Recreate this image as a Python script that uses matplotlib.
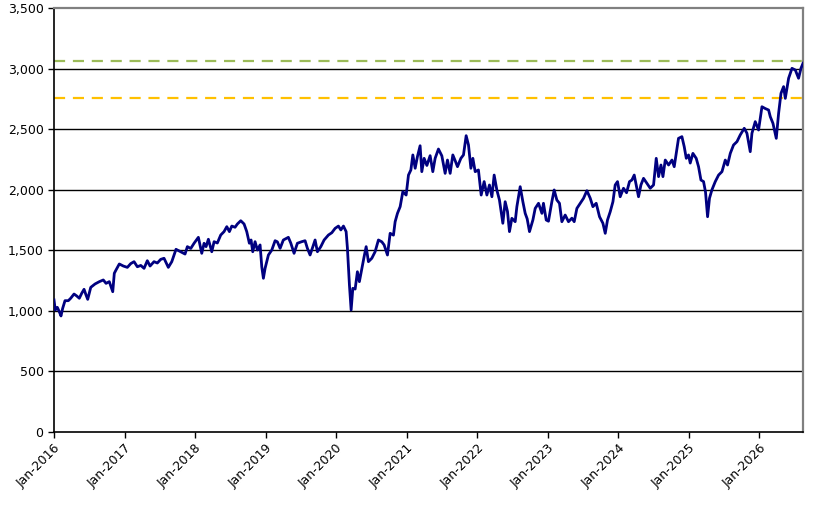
import matplotlib
matplotlib.use("Agg")
import matplotlib.pyplot as plt
from matplotlib.ticker import FuncFormatter

# ---- data (decimal year, index value) ----
dec_year = [
    2016.000, 2016.018, 2016.047, 2016.075, 2016.099, 2016.123, 2016.156, 2016.203, 2016.237, 2016.284,
    2016.322, 2016.359, 2016.393, 2016.426, 2016.454, 2016.478, 2016.521, 2016.582, 2016.643, 2016.699,
    2016.738, 2016.784, 2016.833, 2016.855, 2016.879, 2016.926, 2016.983, 2017.040, 2017.088, 2017.135,
    2017.182, 2017.230, 2017.277, 2017.323, 2017.362, 2017.418, 2017.465, 2017.513, 2017.560, 2017.621,
    2017.670, 2017.730, 2017.797, 2017.858, 2017.891, 2017.939, 2017.986, 2018.047, 2018.095, 2018.128,
    2018.156,
    2018.189, 2018.237, 2018.270, 2018.316, 2018.364, 2018.411, 2018.450, 2018.487, 2018.521, 2018.567,
    2018.600, 2018.648, 2018.695, 2018.733, 2018.770, 2018.794, 2018.818, 2018.851, 2018.884, 2018.922,
    2018.946, 2018.969, 2018.993, 2019.040, 2019.088, 2019.135, 2019.167, 2019.206, 2019.252, 2019.323,
    2019.357, 2019.404, 2019.451, 2019.513, 2019.560, 2019.593, 2019.631, 2019.678, 2019.702, 2019.735,
    2019.783, 2019.830, 2019.891, 2019.939, 2019.986, 2020.033, 2020.067, 2020.104, 2020.142, 2020.160,
    2020.189, 2020.213, 2020.237, 2020.270, 2020.302, 2020.330, 2020.365, 2020.397, 2020.426, 2020.458,
    2020.506, 2020.553, 2020.600, 2020.648, 2020.681, 2020.728, 2020.766, 2020.813, 2020.837, 2020.870,
    2020.908, 2020.946, 2020.993, 2021.026, 2021.060, 2021.088, 2021.121, 2021.153, 2021.191, 2021.215,
    2021.248, 2021.287, 2021.333, 2021.371, 2021.404, 2021.451, 2021.499, 2021.546, 2021.579, 2021.617,
    2021.655, 2021.688, 2021.721, 2021.769, 2021.806, 2021.844, 2021.877, 2021.911, 2021.939, 2021.972,
    2022.018, 2022.057, 2022.099, 2022.138, 2022.174, 2022.209, 2022.241, 2022.279, 2022.316, 2022.364,
    2022.397, 2022.430, 2022.458, 2022.492, 2022.539, 2022.563, 2022.610, 2022.648, 2022.681, 2022.709,
    2022.742, 2022.790, 2022.823, 2022.870, 2022.918, 2022.940, 2022.979, 2023.011, 2023.059, 2023.092,
    2023.130, 2023.167, 2023.201, 2023.248, 2023.295, 2023.343, 2023.376, 2023.414, 2023.461, 2023.508,
    2023.556, 2023.603, 2023.641, 2023.688, 2023.735, 2023.783, 2023.816, 2023.848, 2023.887, 2023.925,
    2023.957, 2023.990, 2024.028, 2024.075, 2024.118, 2024.160,
    2024.194, 2024.227, 2024.255, 2024.288, 2024.322, 2024.359, 2024.407, 2024.454, 2024.501, 2024.539,
    2024.572, 2024.606, 2024.634, 2024.667, 2024.714, 2024.762, 2024.794, 2024.823, 2024.855, 2024.903,
    2024.936, 2024.965, 2024.997, 2025.021, 2025.059, 2025.106, 2025.139, 2025.173, 2025.210, 2025.238,
    2025.267, 2025.294, 2025.328, 2025.376, 2025.423, 2025.471, 2025.518, 2025.550, 2025.589, 2025.635,
    2025.684, 2025.730, 2025.787, 2025.825, 2025.872, 2025.896, 2025.943, 2025.990,
    2026.038, 2026.085, 2026.132, 2026.156, 2026.194, 2026.241, 2026.274, 2026.308, 2026.345, 2026.369,
    2026.416, 2026.464, 2026.511, 2026.557, 2026.591, 2026.620,
]
index_value = [
    1090, 1007, 1029, 993, 958, 1021, 1084, 1084, 1104, 1139,
    1123, 1104, 1145, 1178, 1131, 1095, 1194, 1222, 1241, 1255,
    1227, 1241, 1158, 1310, 1337, 1387, 1370, 1359, 1390, 1406,
    1364, 1375, 1351, 1414, 1370, 1406, 1395, 1425, 1434, 1359,
    1406, 1508, 1488, 1469, 1530, 1515, 1558, 1607, 1475, 1558,
    1530,
    1591, 1488, 1571, 1560, 1626, 1654, 1695, 1654, 1700, 1690,
    1717, 1744, 1717, 1654, 1558, 1585, 1488, 1571, 1502, 1544,
    1364, 1269, 1351, 1461, 1502, 1579, 1570, 1516, 1585, 1607,
    1560, 1475, 1558, 1571, 1579, 1516, 1461, 1544, 1585, 1488,
    1530, 1585, 1626, 1645, 1681, 1700, 1668, 1700, 1654, 1520,
    1213, 1007, 1186, 1180, 1323, 1241, 1351, 1447, 1530, 1406,
    1434, 1488, 1585, 1570, 1544, 1461, 1640, 1625, 1736, 1805,
    1860, 1984, 1956, 2121, 2163, 2287, 2177, 2273, 2363, 2149,
    2259, 2200, 2281, 2149, 2259, 2336, 2280, 2135, 2245, 2135,
    2287, 2240, 2190, 2259, 2287, 2446, 2369, 2177, 2259, 2149,
    2163, 1956, 2067, 1956, 2039, 1942, 2121, 1998, 1915, 1723,
    1901, 1820, 1654, 1764, 1736, 1860, 2025, 1901, 1805, 1760,
    1654, 1750, 1846, 1888, 1805, 1888, 1750, 1740, 1901, 1998,
    1915, 1888, 1736, 1791, 1736, 1765, 1736, 1846, 1888, 1929,
    1992, 1930, 1860, 1888, 1777, 1723, 1640, 1750, 1819, 1901,
    2039, 2067, 1942, 2012, 1975, 2067,
    2080, 2121, 2039, 1942, 2039, 2094, 2053, 2012, 2039, 2259,
    2108, 2204, 2108, 2245, 2204, 2245, 2190, 2300, 2424, 2438,
    2355, 2259, 2287, 2220, 2300, 2259, 2190, 2080, 2067, 1980,
    1777, 1929, 1998, 2067, 2121, 2149, 2245, 2204, 2300, 2369,
    2397, 2452, 2507, 2466, 2314, 2466, 2562, 2493,
    2685, 2670, 2658, 2603, 2548, 2424, 2630, 2796, 2851, 2754,
    2920, 3002, 2988, 2920, 3002, 3043,
]

level_high = 3062
level_low = 2757

tick_years = list(range(2016, 2027))
tick_labels = [f"Jan-{y}" for y in tick_years]

# ---- figure ----
fig = plt.figure(figsize=(8.27, 5.11), dpi=100)
ax = fig.add_axes([54 / 827, 1 - 432 / 511, (803 - 54) / 827, (432 - 8) / 511])

ax.set_xlim(2016.0, 2026.62)
ax.set_ylim(0, 3500)

for yv in range(500, 3500, 500):
    ax.axhline(yv, color="black", linewidth=1.0, zorder=1)

ax.axhline(level_high, color="#9BBB59", linewidth=1.6, linestyle=(0, (5, 3.5)), zorder=2)
ax.axhline(level_low, color="#FFC000", linewidth=1.6, linestyle=(0, (5, 3.5)), zorder=2)

ax.plot(dec_year, index_value, color="#000080", linewidth=2.0, zorder=3)

ax.set_yticks(range(0, 3501, 500))
ax.yaxis.set_major_formatter(FuncFormatter(lambda v, p: f"{int(v):,}"))
ax.set_xticks(tick_years)
ax.set_xticklabels(tick_labels, rotation=45, ha="right", rotation_mode="anchor")

ax.tick_params(axis="both", direction="out", length=4, width=1, color="black",
               labelsize=9, labelcolor="black")
ax.tick_params(axis="x", pad=3)

for side in ("left", "bottom"):
    ax.spines[side].set_color("black")
    ax.spines[side].set_linewidth(1.2)
for side in ("top", "right"):
    ax.spines[side].set_color("#808080")
    ax.spines[side].set_linewidth(1.6)

fig.savefig("out.png", dpi=100)
